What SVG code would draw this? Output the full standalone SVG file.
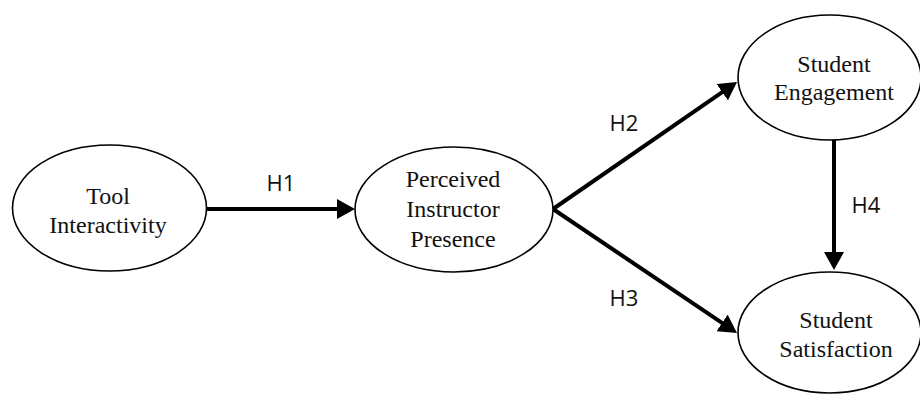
<svg xmlns="http://www.w3.org/2000/svg" width="920" height="394" viewBox="0 0 920 394">
<style>
.node ellipse{fill:#fff;stroke:#000;stroke-width:1.6}
.nt{font-family:'Liberation Serif','Times New Roman',serif;font-size:24px;fill:#111;text-anchor:middle}
.edge{stroke:#000;stroke-width:4;fill:none;marker-end:url(#ah)}
.lbl{font-family:'Open Sans','Liberation Sans',sans-serif;font-size:22px;fill:#111;text-anchor:middle}
</style>
<defs>
<marker id="ah" markerUnits="userSpaceOnUse" markerWidth="18" markerHeight="20" refX="8" refY="10" orient="auto">
<path d="M0,0 L18,10 L0,20 z" fill="#000"/>
</marker>
</defs>
<rect width="920" height="394" fill="#fff"/>
<g id="connectors">
<line class="edge" x1="207" y1="209" x2="345" y2="209"/>
<line class="edge" x1="553" y1="209" x2="728.8" y2="87.7"/>
<line class="edge" x1="553" y1="209" x2="728.7" y2="327.4"/>
<line class="edge" x1="834" y1="140" x2="834" y2="260"/>
<text class="lbl" x="281" y="191">H1</text>
<text class="lbl" x="624" y="131">H2</text>
<text class="lbl" x="624" y="306">H3</text>
<text class="lbl" x="866" y="213">H4</text>
</g>
<g id="tool" class="node">
<ellipse cx="109.5" cy="208" rx="97" ry="63"/>
<text class="nt" x="108" y="204">Tool</text>
<text class="nt" x="108" y="233">Interactivity</text>
</g>
<g id="presence" class="node">
<ellipse cx="454" cy="209.5" rx="99" ry="62.5"/>
<text class="nt" x="453" y="187">Perceived</text>
<text class="nt" x="453" y="217">Instructor</text>
<text class="nt" x="453" y="247">Presence</text>
</g>
<g id="engagement" class="node">
<ellipse cx="829.5" cy="77.5" rx="91.5" ry="62.5"/>
<text class="nt" x="834" y="72">Student</text>
<text class="nt" x="834" y="100">Engagement</text>
</g>
<g id="satisfaction" class="node">
<ellipse cx="829.5" cy="332.5" rx="91.5" ry="60.5"/>
<text class="nt" x="836" y="328">Student</text>
<text class="nt" x="836" y="357">Satisfaction</text>
</g>
</svg>
